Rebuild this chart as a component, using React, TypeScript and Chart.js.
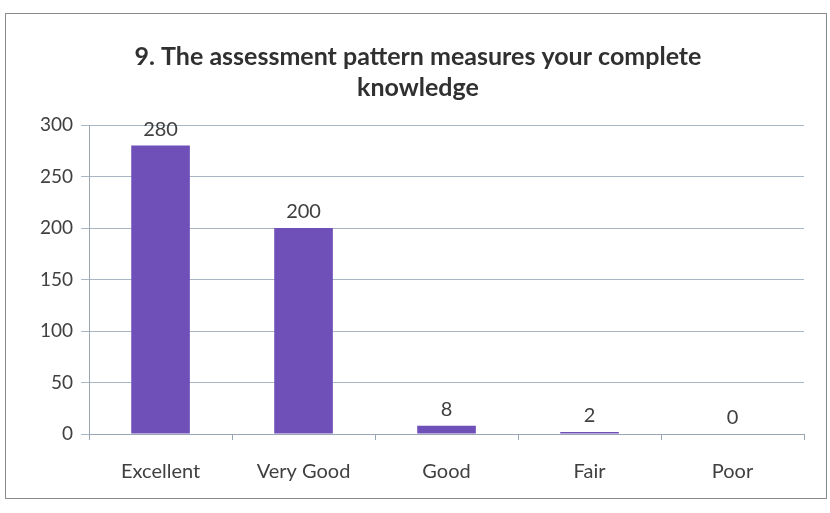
import React, { useEffect, useRef } from "react";
import { Chart, registerables } from "chart.js";

Chart.register(...registerables);

const categories = ["Excellent", "Very Good", "Good", "Fair", "Poor"];
const values = [280, 200, 8, 2, 0];
const titleLines = ["9. The assessment pattern measures your complete", "knowledge"];
const yMin = 0;
const yMax = 300;
const yStep = 50;

const FONT = "Lato, 'Open Sans', sans-serif";

const valueLabels = {
  id: "valueLabels",
  afterDatasetsDraw(chart: any) {
    const ctx = chart.ctx;
    const meta = chart.getDatasetMeta(0);
    ctx.save();
    ctx.font = `20px ${FONT}`;
    ctx.fillStyle = "#404040";
    ctx.textAlign = "center";
    ctx.textBaseline = "bottom";
    meta.data.forEach((bar: any, i: number) => {
      ctx.fillText(String(values[i]), bar.x, bar.y - 6);
    });
    ctx.restore();
  },
};

export default function App() {
  const ref = useRef<HTMLCanvasElement | null>(null);
  useEffect(() => {
    if (!ref.current) return;
    const chart = new Chart(ref.current, {
      type: "bar",
      data: {
        labels: categories,
        datasets: [
          {
            data: values,
            backgroundColor: "#6F4FB8",
            barPercentage: 0.41,
            categoryPercentage: 1,
          },
        ],
      },
      options: {
        animation: false,
        responsive: true,
        maintainAspectRatio: false,
        layout: { padding: { left: 26, right: 22, top: 0, bottom: 0 } },
        plugins: {
          legend: { display: false },
          tooltip: { enabled: false },
          title: {
            display: true,
            text: titleLines,
            color: "#303030",
            font: { family: FONT, size: 25, weight: "bold", lineHeight: 1.24 },
            padding: { top: 27, bottom: 22 },
          },
        },
        scales: {
          x: {
            grid: {
              offset: true,
              drawOnChartArea: false,
              drawTicks: true,
              tickLength: 6,
              color: "#9AA6B2",
            },
            border: { color: "#9AA6B2" },
            ticks: { color: "#404040", font: { family: FONT, size: 20 }, padding: 20 },
          },
          y: {
            min: yMin,
            max: yMax,
            ticks: { stepSize: yStep, color: "#404040", font: { family: FONT, size: 19 }, padding: 8 },
            grid: { color: "#A9B6C4", tickLength: 8, drawTicks: true },
            border: { color: "#9AA6B2" },
          },
        },
      },
      plugins: [valueLabels],
    });
    return () => chart.destroy();
  }, []);
  return (
    <div
      style={{
        position: "fixed",
        left: 5,
        top: 13,
        width: 822,
        height: 486,
        border: "1px solid #8A8A8A",
        background: "#fff",
        boxSizing: "border-box",
      }}
    >
      <div style={{ position: "absolute", left: 0, top: 0, width: 820, height: 490 }}>
        <canvas ref={ref} />
      </div>
    </div>
  );
}
